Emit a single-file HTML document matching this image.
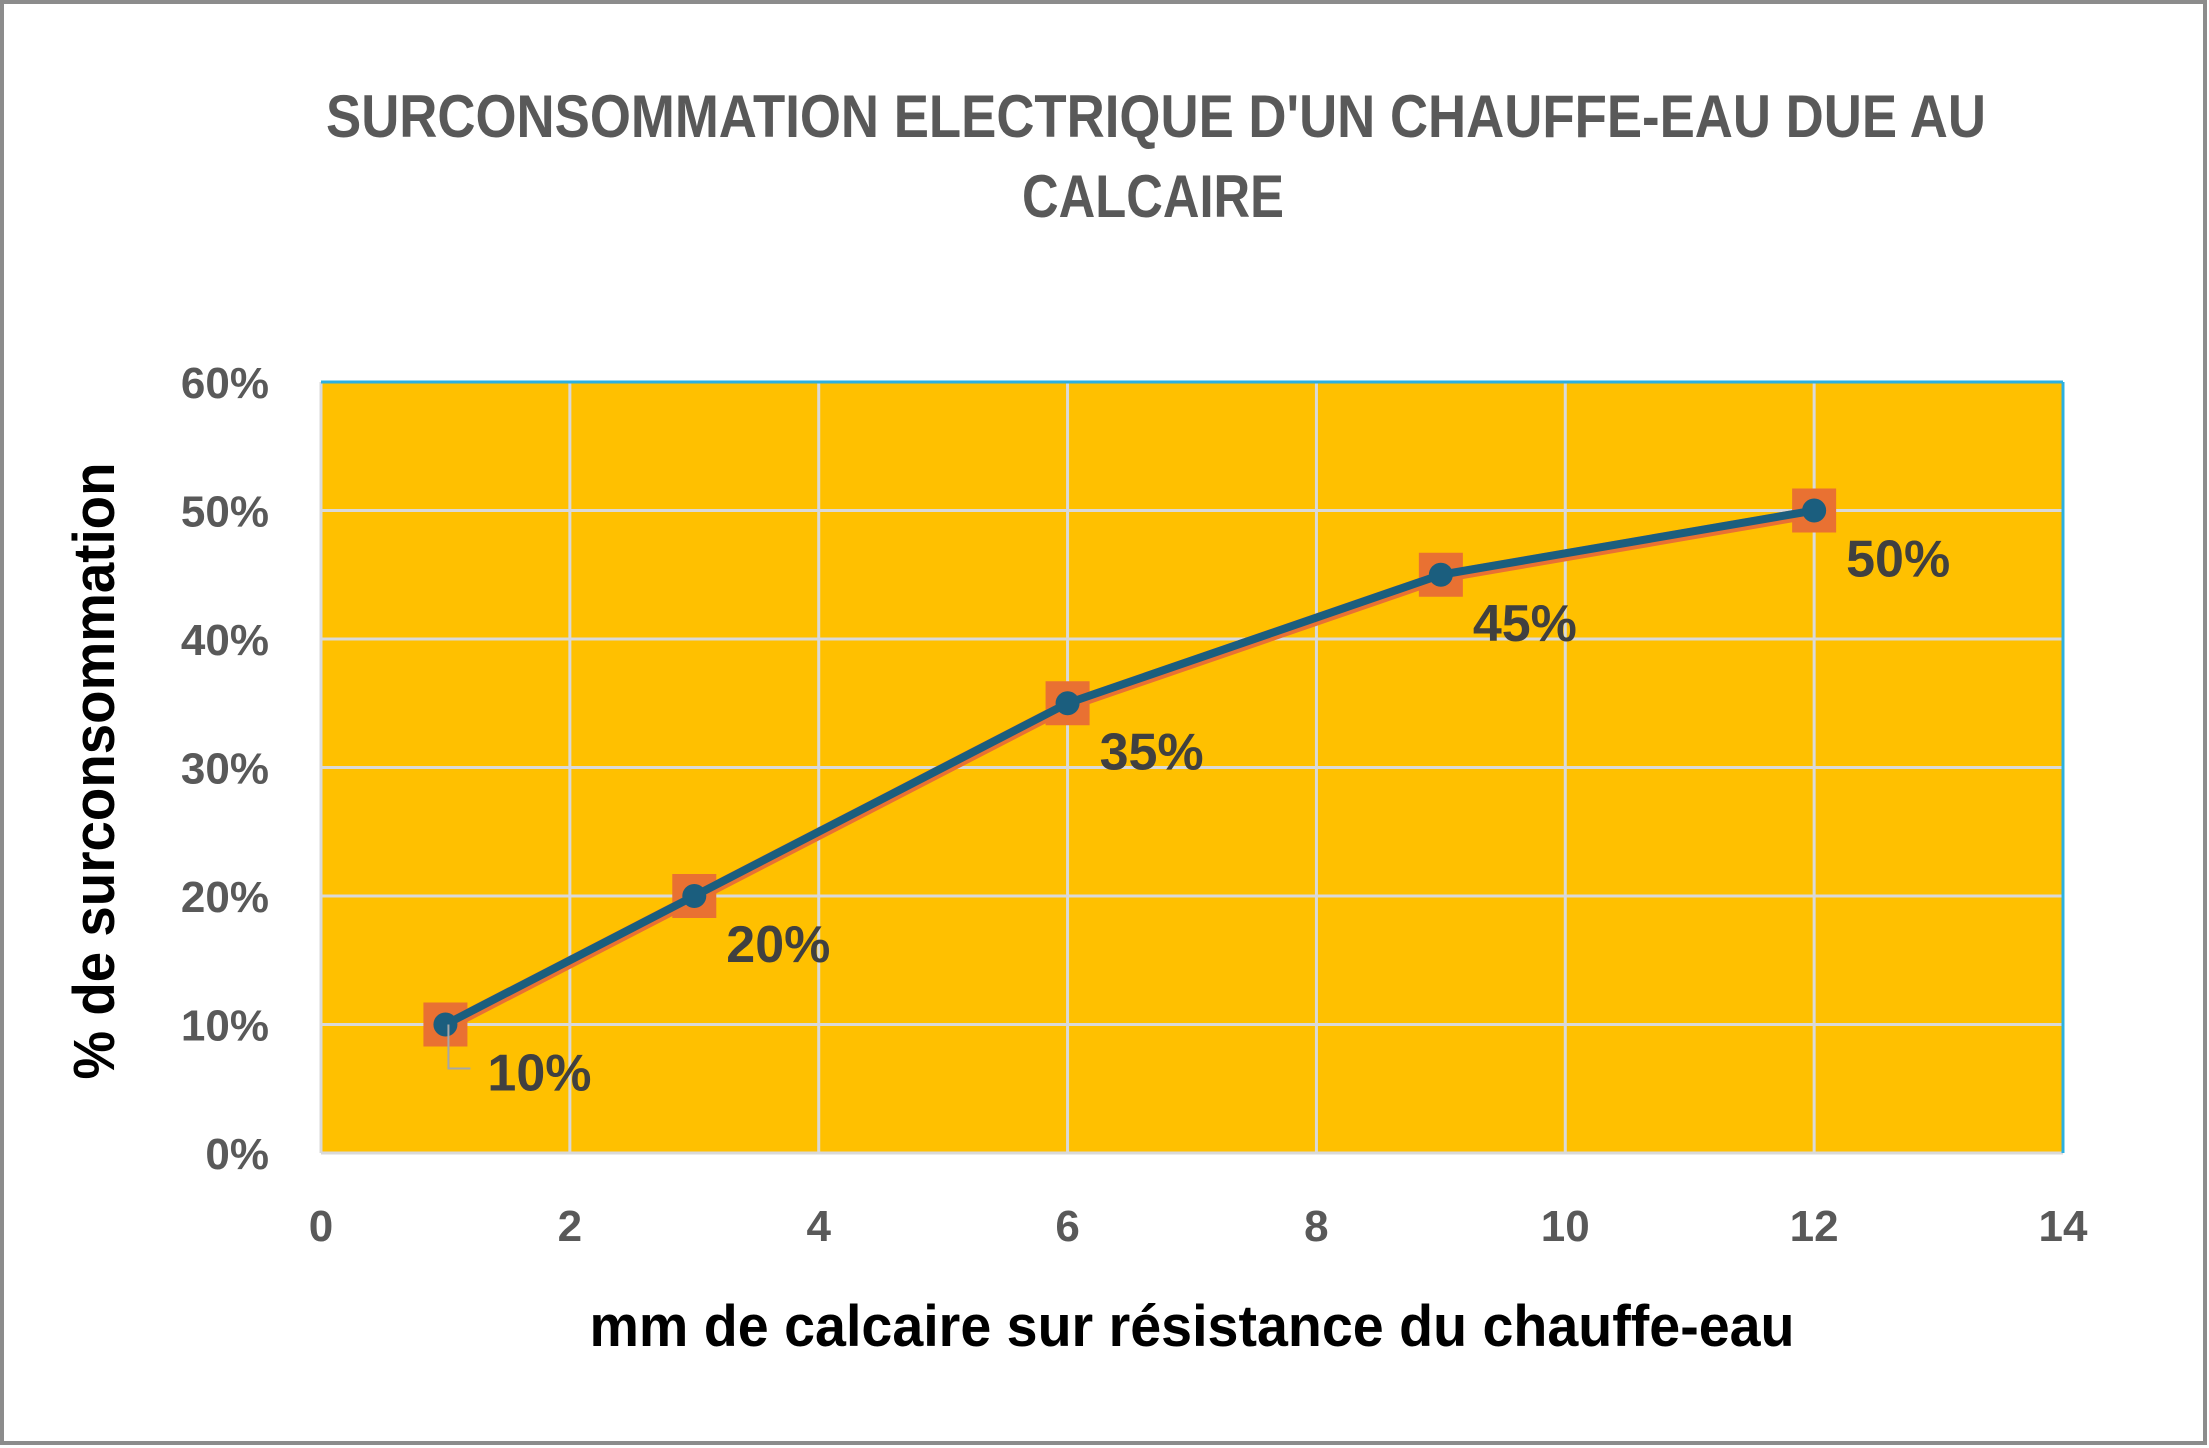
<!DOCTYPE html>
<html><head><meta charset="utf-8"><style>
html,body{margin:0;padding:0;background:#fff;}
svg{display:block;}
text{font-family:"Liberation Sans",sans-serif;font-weight:bold;}
</style></head><body>
<svg id="chart" width="2209" height="1448" viewBox="0 0 2209 1448" xmlns="http://www.w3.org/2000/svg">
<rect x="2" y="2" width="2203" height="1441" fill="#fff" stroke="#8c8c8c" stroke-width="4"/>
<text x="1156" y="137" text-anchor="middle" font-size="60" fill="#595959" textLength="1660" lengthAdjust="spacingAndGlyphs">SURCONSOMMATION ELECTRIQUE D'UN CHAUFFE-EAU DUE AU</text>
<text x="1153" y="217" text-anchor="middle" font-size="60" fill="#595959" textLength="262" lengthAdjust="spacingAndGlyphs">CALCAIRE</text>
<rect x="321" y="382" width="1742" height="771" fill="#FFC000"/>
<g id="grid"></g>
<line x1="321" y1="382" x2="2063" y2="382" stroke="#2cb0e0" stroke-width="3"/>
<line x1="2063" y1="382" x2="2063" y2="1153" stroke="#2cb0e0" stroke-width="3"/>
<g id="ticks"></g>
<g id="series"></g>
<text x="1192" y="1346" text-anchor="middle" font-size="58" fill="#000" textLength="1205" lengthAdjust="spacingAndGlyphs">mm de calcaire sur résistance du chauffe-eau</text>
<text transform="translate(114,771) rotate(-90)" text-anchor="middle" font-size="58" fill="#000" textLength="617" lengthAdjust="spacingAndGlyphs">% de surconsommation</text>
</svg>
<script>
const xValues = [1, 3, 6, 9, 12];
const yValues = [10, 20, 35, 45, 50];
const dataLabels = ["10%", "20%", "35%", "45%", "50%"];
const xTicks = [0, 2, 4, 6, 8, 10, 12, 14];
const yTicks = [0, 10, 20, 30, 40, 50, 60];
const yTickLabels = ["0%", "10%", "20%", "30%", "40%", "50%", "60%"];

const NS = "http://www.w3.org/2000/svg";
const X0 = 321, X1 = 2063, Y0 = 1153, Y1 = 382;
const xMin = 0, xMax = 14, yMin = 0, yMax = 60;
function sx(v){ return X0 + (v - xMin) / (xMax - xMin) * (X1 - X0); }
function sy(v){ return Y0 - (v - yMin) / (yMax - yMin) * (Y0 - Y1); }
function mk(tag, attrs, parent){
  const e = document.createElementNS(NS, tag);
  for (const k in attrs) e.setAttribute(k, attrs[k]);
  parent.appendChild(e);
  return e;
}
const grid = document.getElementById('grid');
const ticks = document.getElementById('ticks');
const series = document.getElementById('series');

yTicks.forEach((t, i) => {
  const l = mk('line', {x1: X0, x2: X1, y1: sy(t), y2: sy(t), stroke: '#d9d9d9', 'stroke-width': 3}, grid);
  
  
  const tx = mk('text', {x: 269, y: sy(t) + 16, 'text-anchor': 'end', 'font-size': 44, fill: '#595959'}, ticks);
  tx.textContent = yTickLabels[i];
  
  
});
xTicks.forEach(t => {
  const l = mk('line', {x1: sx(t), x2: sx(t), y1: Y1, y2: Y0, stroke: '#d9d9d9', 'stroke-width': 3}, grid);
  
  
  const tx = mk('text', {x: sx(t), y: 1241, 'text-anchor': 'middle', 'font-size': 44, fill: '#595959'}, ticks);
  tx.textContent = String(t);
  
  
});

const pts = xValues.map((x, i) => [sx(x), sy(yValues[i])]);
const ptsStr = pts.map(p => p[0] + ',' + p[1]).join(' ');
const po = mk('polyline', {points: pts.map(p => p[0] + ',' + (p[1] + 2)).join(' '), fill: 'none', stroke: '#E97132', 'stroke-width': 12, 'stroke-linejoin': 'round'}, series);


pts.forEach(p => {
  const r = mk('rect', {x: p[0] - 22, y: p[1] - 22, width: 44, height: 44, fill: '#E97132'}, series);
  
  
});
const pb = mk('polyline', {points: ptsStr, fill: 'none', stroke: '#1B5E7E', 'stroke-width': 8, 'stroke-linejoin': 'round'}, series);


pts.forEach((p, i) => {
  const c = mk('circle', {cx: p[0], cy: p[1], r: 12, fill: '#1B5E7E'}, series);
  
  
  const dx = i === 0 ? 42 : 32;
  const t = mk('text', {x: p[0] + dx, y: p[1] + 66, 'font-size': 52, fill: '#404040'}, series);
  t.textContent = dataLabels[i];
  
  
  if (i === 0) {
    const ld = mk('polyline', {points: `${p[0] + 3},${p[1]} ${p[0] + 3},${p[1] + 44} ${p[0] + 25},${p[1] + 44}`, fill: 'none', stroke: '#a6a6a6', 'stroke-width': 2}, series);
    
    
  }
});
</script>
</body></html>
